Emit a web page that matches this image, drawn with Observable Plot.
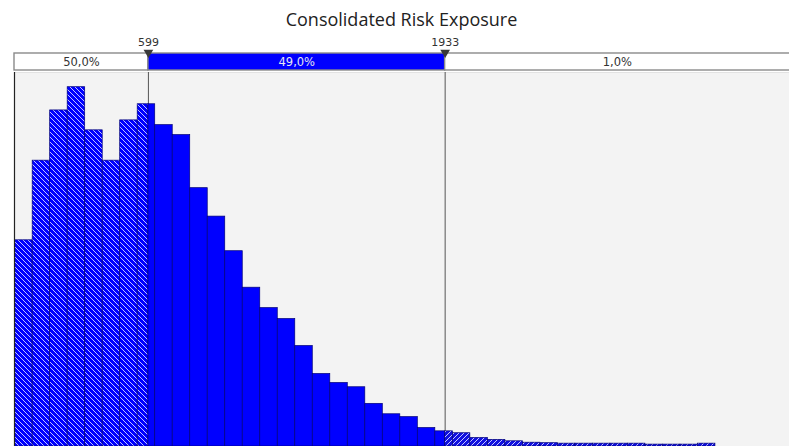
<!DOCTYPE html>
<html>
<head>
<meta charset="utf-8">
<script src="https://cdn.jsdelivr.net/npm/d3@7"></script>
<script src="https://cdn.jsdelivr.net/npm/@observablehq/plot@0.6"></script>
<style>
  html, body { margin: 0; padding: 0; background: #ffffff; }
  #chart { width: 789px; overflow: hidden; }
  .title {
    height: 32px; box-sizing: border-box; padding: 7px 0 0 14px;
    font-family: "Open Sans", sans-serif; font-size: 18px; line-height: 24px;
    color: #222; text-align: center; white-space: nowrap;
  }
  #chart svg { display: block; }
</style>
</head>
<body>
<div id="chart"></div>
<script>
// ---- data ----
const title = "Consolidated Risk Exposure";
const binStart = 0;          // left edge of first bin
const binWidth = 78.7;       // width of each bin
// probability (%) of each bin, left to right
const probabilities = [
  4.35, 6.03, 7.09, 7.58, 6.67, 6.03, 6.88, 7.22, 6.78, 6.57,
  5.45, 4.85, 4.12, 3.35, 2.92, 2.69, 2.12, 1.53, 1.34, 1.25,
  0.90, 0.68, 0.62, 0.39, 0.32, 0.28, 0.18, 0.14, 0.11, 0.08,
  0.07, 0.06, 0.06, 0.06, 0.06, 0.06, 0.04, 0.04, 0.04, 0.06
];
const markers = [599, 1933];
const markerLabels = ["599", "1933"];
const bandLabels = ["50,0%", "49,0%", "1,0%"];
const xDomain = [-3, 3481];
const yMax = 7.89;

// ---- derived tables ----
const lo = markers[0], hi = markers[1];
const region = v => v < lo ? "low" : v < hi ? "mid" : "high";
const segs = [];
probabilities.forEach((p, i) => {
  const a = binStart + i * binWidth, b = a + binWidth;
  const cuts = [a, ...markers.filter(m => m > a && m < b), b];
  for (let k = 0; k < cuts.length - 1; k++) {
    segs.push({x1: cuts[k], x2: cuts[k + 1], p, region: region((cuts[k] + cuts[k + 1]) / 2)});
  }
});
const bands = [
  {x1: xDomain[0], x2: lo, label: bandLabels[0], mid: false},
  {x1: lo, x2: hi, label: bandLabels[1], mid: true},
  {x1: hi, x2: xDomain[1] + 40, label: bandLabels[2], mid: false}
];
const markerData = markers.map((m, i) => ({x: m, label: markerLabels[i]}));

const common = {width: 789, marginLeft: 14, marginRight: 0, x: {domain: xDomain, axis: null}};

// ---- header (split band + markers) ----
const header = Plot.plot({
  ...common,
  height: 40, marginTop: 21, marginBottom: 2,
  y: {domain: [0, 1], axis: null},
  style: {background: "transparent", overflow: "visible", fontFamily: "DejaVu Sans, sans-serif"},
  marks: [
    Plot.rect(bands, {x1: "x1", x2: "x2", y1: 0, y2: 1, fill: d => d.mid ? "#0000ff" : "#ffffff", stroke: "#8a8a8a", strokeWidth: 1.4}),
    Plot.text(bands, {x: d => (d.x1 + Math.min(d.x2, xDomain[1])) / 2, y: 0.5, text: "label", fill: d => d.mid ? "#e6e6f0" : "#333", fontSize: 11.5}),
    Plot.dot(markerData, {x: "x", y: 1, symbol: "triangle", rotate: 180, r: 3.6, fill: "#3a3a3a", stroke: null, dy: -1}),
    Plot.text(markerData, {x: "x", y: 1, dy: -11, text: "label", fill: "#333", fontSize: 11})
  ]
});

// ---- main histogram ----
const barStroke = "#000078";
const main = Plot.plot({
  ...common,
  height: 374, marginTop: 0, marginBottom: 0,
  y: {domain: [0, yMax], axis: null},
  style: {background: "transparent", overflow: "visible"},
  marks: [
    Plot.frame({fill: "#f3f3f3", stroke: null}),
    Plot.ruleY([yMax], {stroke: "#e2e2e2", strokeWidth: 1}),
    Plot.ruleX(markers, {stroke: "#555", strokeWidth: 1}),
    Plot.rectY(segs.filter(d => d.region === "low"), {x1: "x1", x2: "x2", y: "p", fill: "url(#hatchLow)", stroke: barStroke, strokeWidth: 0.7}),
    Plot.rectY(segs.filter(d => d.region === "mid"), {x1: "x1", x2: "x2", y: "p", fill: "#0000ff", stroke: barStroke, strokeWidth: 0.7}),
    Plot.rectY(segs.filter(d => d.region === "high"), {x1: "x1", x2: "x2", y: "p", fill: "url(#hatchHigh)", stroke: barStroke, strokeWidth: 0.7}),
    Plot.ruleX([xDomain[0]], {stroke: "#222", strokeWidth: 1.2})
  ]
});

// hatch patterns
const defs = d3.select(main).insert("defs", ":first-child");
const pLow = defs.append("pattern").attr("id", "hatchLow").attr("patternUnits", "userSpaceOnUse").attr("width", 5).attr("height", 5);
pLow.append("rect").attr("width", 5).attr("height", 5).attr("fill", "#0000ff");
pLow.append("path").attr("d", "M0,0L5,5M-1,4L1,6M4,-1L6,1").attr("stroke", "#c4c4ff").attr("stroke-width", 1);
const pHigh = defs.append("pattern").attr("id", "hatchHigh").attr("patternUnits", "userSpaceOnUse").attr("width", 5).attr("height", 5);
pHigh.append("rect").attr("width", 5).attr("height", 5).attr("fill", "#1010e0");
pHigh.append("path").attr("d", "M0,5L5,0M-1,1L1,-1M4,6L6,4").attr("stroke", "#c4c4ff").attr("stroke-width", 1);

const chart = document.getElementById("chart");
const t = document.createElement("div");
t.className = "title";
t.textContent = title;
chart.appendChild(t);
chart.appendChild(header);
chart.appendChild(main);
</script>
</body>
</html>
